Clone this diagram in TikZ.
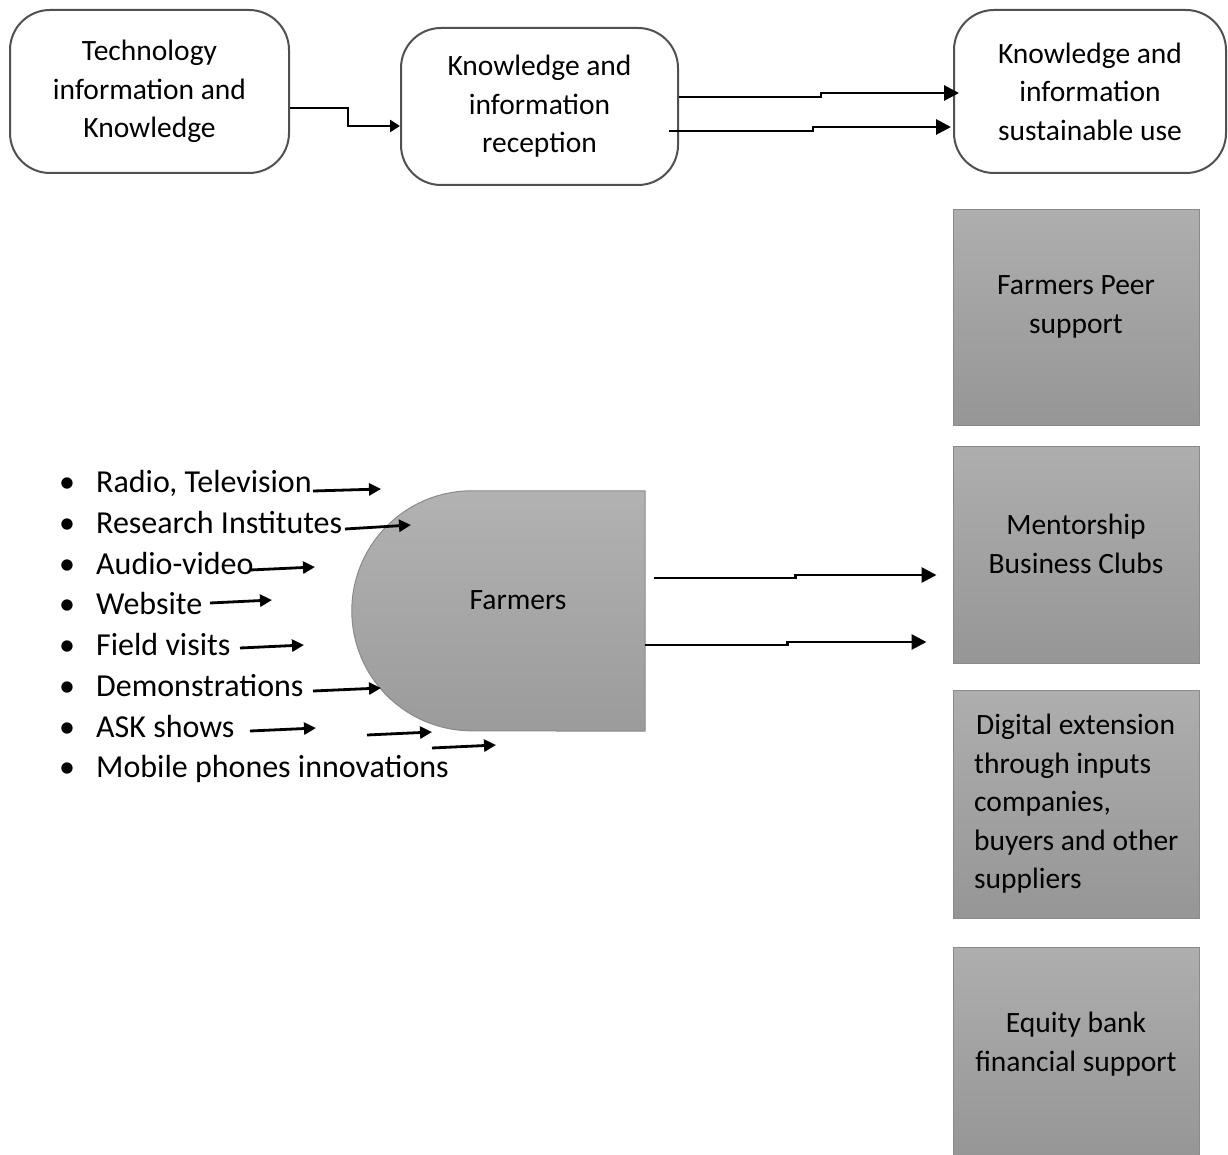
\documentclass[tikz,border=0pt]{standalone}
\usepackage{fontspec}
\setmainfont{Carlito}
\usetikzlibrary{arrows.meta,calc}
\definecolor{boxedge}{HTML}{505050}
\definecolor{graytop}{HTML}{AEAEAE}
\definecolor{graybot}{HTML}{969696}
\definecolor{grayedge}{HTML}{8A8A8A}
\begin{document}
\begin{tikzpicture}[x=1pt,y=-1pt,
  every node/.style={font=\fontsize{29.5}{38.5}\selectfont},
  rbox/.style={draw=boxedge, line width=2pt, rounded corners=40pt, fill=white, align=center, inner sep=0pt},
  gbox/.style={draw=grayedge, line width=1pt, top color=graytop, bottom color=graybot, minimum width=246pt, inner sep=0pt},
  txt/.style={align=center, inner sep=0pt},
  conn/.style={line width=2.8pt, -{Triangle[length=15pt,width=15pt]}},
  connsm/.style={line width=2.8pt, -{Triangle[length=10pt,width=12pt]}},
  sarr/.style={line width=2.8pt, -{Triangle[length=12pt,width=12pt]}},
  item/.style={anchor=base west, inner sep=0pt, font=\fontsize{32}{38}\selectfont},
]
\useasboundingbox (0,0) rectangle (1228,1155);

% top row
\node[rbox, minimum width=279pt, minimum height=163pt] (tech) at (149.5,91.5) {Technology\\information and\\Knowledge};
\node[rbox, minimum width=277pt, minimum height=157pt] (recv) at (539.5,106.5) {Knowledge and\\information\\reception};
\node[rbox, minimum width=272pt, minimum height=163pt] (use) at (1090,91.5) {Knowledge and\\information\\sustainable use};

\draw[connsm] ($(tech.east)+(0,16.5)$) -- ++(58,0) |- ($(recv.west)+(0,19.5)$);
\draw[conn] ($(recv.east)+(0,-9.5)$) -- ++(142,0) |- ($(use.west)+(6,1.5)$);
\draw[conn] ($(recv.east)+(-10,24.5)$) -- ++(144,0) |- ($(use.west)+(-2,35.5)$);

% right gray boxes
\node[gbox, minimum height=215pt] (peer) at (1076,317.5) {};
\node[txt] (peertxt) at (1076,307) {Farmers Peer\\support};
\node[gbox, minimum height=217pt] (mentor) at (1076,554.5) {};
\node[txt] (mentortxt) at (1076,544) {Mentorship\\Business Clubs};
\node[gbox, minimum height=228pt] (dig) at (1076,804) {};
\node[txt, anchor=west, align=left] (digtxt) at (974,804) {\hspace{2pt}Digital extension\\through inputs\\companies,\\buyers and other\\suppliers};
\node[gbox, minimum height=209pt] (eq) at (1076,1051.5) {};
\node[txt] (eqtxt) at (1076,1044) {Equity bank\\financial support};

% farmers shape
\node[minimum width=293pt, minimum height=240pt, inner sep=0pt] (farm) at (498.5,611) {};
\shade[draw=grayedge, line width=1pt, top color=graytop!95!white, bottom color=graybot!95!white]
  (farm.north east) -- ($(farm.north west)+(120,0)$) arc[start angle=90, end angle=270, radius=120pt]
  -- (farm.south east) -- cycle;
\node[txt] (farmtxt) at ($(farm.center)+(19.5,-11)$) {Farmers};

\draw[conn] ($(farm.east)+(9,-33)$) -- ++(141,0) |- ($(mentor.west)+(-16,20.5)$);
\draw[conn] ($(farm.east)+(0,34)$) -- ++(142,0) |- ($(mentor.west)+(-26,87.5)$);

% bullet list
\foreach \i/\y/\t in {1/492/{Radio, Television},2/533/{Research Institutes},3/574/{Audio-video},4/614/{Website},5/655/{Field visits},6/696/{Demonstrations},7/737/{ASK shows},8/777/{Mobile phones innovations}}{
  \node[item, anchor=base] (bul\i) at (67,\y) {\textbullet};
  \node[item] (li\i) at (96,\y) {\t};
}

% short arrows
\foreach \i/\sx/\sy/\ex/\ey in {1/313/491/381/489, 2/345/529/411/525, 3/250/570/315/567, 4/210/603/272/600, 5/240/648/304/645, 6/313/691/381/688, 7/250/731/316/728, 8/367/735/432/732, 9/432/748/496/745}{
  \coordinate (s\i) at (\sx,\sy);
  \coordinate (e\i) at (\ex,\ey);
  \draw[sarr] (s\i) -- (e\i);
}
\end{tikzpicture}
\end{document}
